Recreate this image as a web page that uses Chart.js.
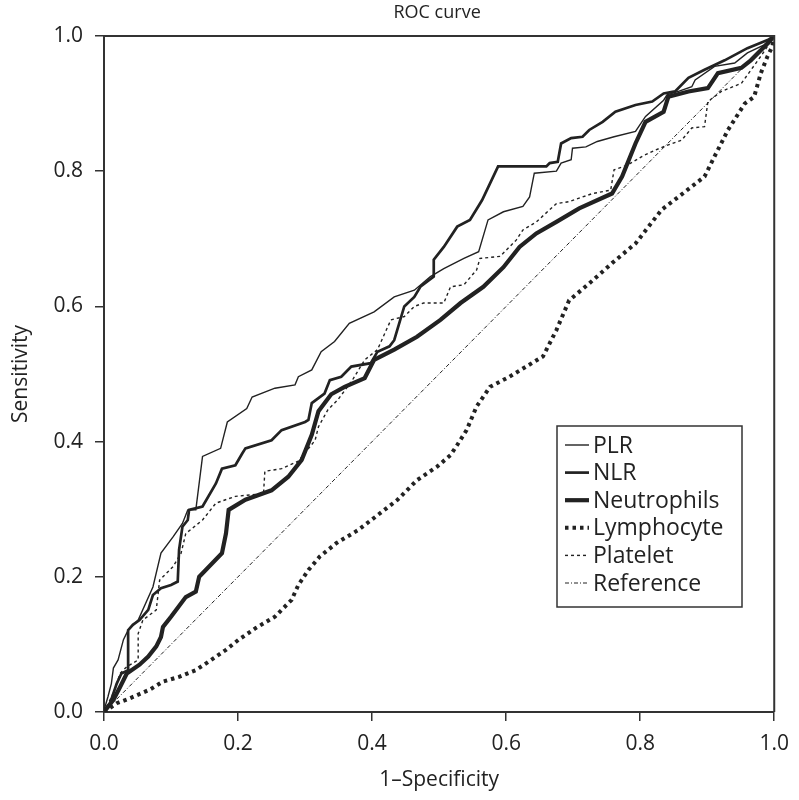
<!DOCTYPE html>
<html>
<head>
<meta charset="utf-8">
<script src="https://cdn.jsdelivr.net/npm/chart.js@4.4.1/dist/chart.umd.min.js"></script>
<style>
  body { margin: 0; background: #fff; }
  #wrap { width: 799px; height: 800px; }
</style>
</head>
<body>
<div id="wrap"><canvas id="rocChart" width="799" height="800"></canvas></div>
<script>
// ROC curve values (1-specificity, sensitivity)
var plrX = [0, 0.001, 0.006, 0.011, 0.014, 0.021, 0.029, 0.036, 0.051, 0.073, 0.085, 0.103, 0.117, 0.125, 0.137, 0.147, 0.174, 0.184, 0.213, 0.221, 0.255, 0.285, 0.290, 0.310, 0.324, 0.344, 0.366, 0.403, 0.433, 0.463, 0.487, 0.507, 0.537, 0.559, 0.573, 0.596, 0.625, 0.635, 0.642, 0.675, 0.682, 0.697, 0.699, 0.719, 0.736, 0.761, 0.793, 0.808, 0.835, 0.840, 0.857, 0.877, 0.882, 0.911, 0.941, 0.960, 0.985, 1]
var plrY = [0, 0.006, 0.023, 0.042, 0.065, 0.077, 0.107, 0.121, 0.136, 0.185, 0.235, 0.259, 0.279, 0.299, 0.299, 0.378, 0.390, 0.429, 0.449, 0.466, 0.479, 0.484, 0.496, 0.506, 0.533, 0.548, 0.575, 0.592, 0.614, 0.624, 0.644, 0.656, 0.671, 0.681, 0.728, 0.740, 0.748, 0.762, 0.797, 0.800, 0.812, 0.817, 0.834, 0.836, 0.844, 0.851, 0.859, 0.881, 0.905, 0.913, 0.918, 0.925, 0.935, 0.955, 0.960, 0.975, 0.987, 1]

var nlrX = [0, 0.009, 0.019, 0.026, 0.036, 0.036, 0.043, 0.053, 0.066, 0.073, 0.085, 0.100, 0.110, 0.112, 0.117, 0.125, 0.127, 0.147, 0.167, 0.176, 0.196, 0.206, 0.211, 0.250, 0.265, 0.300, 0.305, 0.310, 0.329, 0.337, 0.354, 0.369, 0.398, 0.408, 0.426, 0.433, 0.448, 0.463, 0.472, 0.492, 0.492, 0.507, 0.527, 0.546, 0.564, 0.576, 0.588, 0.660, 0.665, 0.677, 0.682, 0.697, 0.714, 0.724, 0.744, 0.763, 0.793, 0.818, 0.835, 0.852, 0.872, 0.896, 0.926, 0.960, 0.990, 1]
var nlrY = [0, 0.013, 0.042, 0.057, 0.062, 0.121, 0.129, 0.136, 0.151, 0.173, 0.183, 0.188, 0.193, 0.240, 0.274, 0.284, 0.299, 0.304, 0.338, 0.360, 0.365, 0.382, 0.390, 0.402, 0.417, 0.429, 0.432, 0.457, 0.471, 0.491, 0.496, 0.511, 0.516, 0.533, 0.541, 0.550, 0.600, 0.614, 0.629, 0.644, 0.669, 0.688, 0.718, 0.728, 0.757, 0.782, 0.807, 0.807, 0.812, 0.814, 0.841, 0.849, 0.851, 0.861, 0.873, 0.888, 0.898, 0.903, 0.915, 0.918, 0.938, 0.950, 0.964, 0.982, 0.994, 1]

var neuX = [0, 0.014, 0.024, 0.034, 0.053, 0.066, 0.078, 0.085, 0.088, 0.100, 0.122, 0.137, 0.142, 0.176, 0.182, 0.186, 0.211, 0.250, 0.275, 0.295, 0.310, 0.320, 0.339, 0.359, 0.389, 0.403, 0.433, 0.467, 0.502, 0.532, 0.566, 0.596, 0.620, 0.645, 0.675, 0.709, 0.758, 0.773, 0.793, 0.808, 0.835, 0.842, 0.872, 0.901, 0.916, 0.951, 0.965, 0.990, 1]
var neuY = [0, 0.018, 0.037, 0.057, 0.070, 0.082, 0.097, 0.111, 0.126, 0.141, 0.170, 0.178, 0.200, 0.235, 0.264, 0.299, 0.314, 0.328, 0.348, 0.373, 0.410, 0.445, 0.470, 0.481, 0.494, 0.521, 0.536, 0.555, 0.580, 0.605, 0.629, 0.658, 0.688, 0.708, 0.725, 0.745, 0.767, 0.792, 0.841, 0.873, 0.888, 0.910, 0.918, 0.923, 0.945, 0.953, 0.964, 0.989, 1]

var lymX = [0, 0.019, 0.038, 0.068, 0.088, 0.112, 0.137, 0.157, 0.182, 0.201, 0.226, 0.255, 0.280, 0.290, 0.305, 0.322, 0.347, 0.379, 0.408, 0.438, 0.467, 0.497, 0.517, 0.527, 0.541, 0.556, 0.576, 0.605, 0.655, 0.675, 0.694, 0.724, 0.758, 0.793, 0.832, 0.857, 0.896, 0.911, 0.931, 0.956, 0.970, 0.980, 0.990, 0.997, 1]
var lymY = [0, 0.013, 0.020, 0.033, 0.045, 0.052, 0.062, 0.075, 0.092, 0.107, 0.124, 0.141, 0.166, 0.188, 0.210, 0.230, 0.250, 0.269, 0.291, 0.314, 0.343, 0.363, 0.380, 0.395, 0.417, 0.452, 0.481, 0.496, 0.526, 0.565, 0.609, 0.634, 0.664, 0.693, 0.743, 0.762, 0.792, 0.822, 0.861, 0.900, 0.910, 0.945, 0.970, 0.984, 1]

var pltX = [0, 0.014, 0.024, 0.034, 0.051, 0.051, 0.058, 0.078, 0.083, 0.103, 0.115, 0.122, 0.147, 0.167, 0.196, 0.238, 0.240, 0.265, 0.290, 0.315, 0.320, 0.334, 0.349, 0.370, 0.389, 0.408, 0.428, 0.448, 0.463, 0.477, 0.507, 0.517, 0.537, 0.556, 0.561, 0.591, 0.615, 0.625, 0.645, 0.675, 0.694, 0.729, 0.756, 0.761, 0.781, 0.803, 0.822, 0.842, 0.862, 0.877, 0.896, 0.901, 0.921, 0.951, 0.980, 1]
var pltY = [0, 0.028, 0.057, 0.067, 0.077, 0.116, 0.136, 0.151, 0.195, 0.215, 0.235, 0.264, 0.284, 0.309, 0.319, 0.323, 0.356, 0.360, 0.371, 0.402, 0.422, 0.447, 0.462, 0.490, 0.521, 0.536, 0.580, 0.585, 0.600, 0.605, 0.605, 0.629, 0.632, 0.654, 0.671, 0.674, 0.698, 0.713, 0.725, 0.752, 0.755, 0.767, 0.772, 0.802, 0.809, 0.822, 0.831, 0.839, 0.846, 0.864, 0.866, 0.903, 0.918, 0.930, 0.970, 1]

var refX = [0, 1]
var refY = [0, 1]

var seriesNames = ['PLR', 'NLR', 'Neutrophils', 'Lymphocyte', 'Platelet', 'Reference']
var tickLabels = ['0.0', '0.2', '0.4', '0.6', '0.8', '1.0']

function pts(xs, ys) {
    return xs.map(function(x, i) { return { x: x, y: ys[i] } })
}

var ink = '#222'
var FONT = "'Open Sans', 'Noto Sans', sans-serif"

var datasets = [
    { label: seriesNames[0], data: pts(plrX, plrY), borderWidth: 1.4, borderDash: [] },
    { label: seriesNames[1], data: pts(nlrX, nlrY), borderWidth: 2.7, borderDash: [] },
    { label: seriesNames[2], data: pts(neuX, neuY), borderWidth: 4.2, borderDash: [] },
    { label: seriesNames[3], data: pts(lymX, lymY), borderWidth: 4, borderDash: [3.5, 4] },
    { label: seriesNames[4], data: pts(pltX, pltY), borderWidth: 1.4, borderDash: [3, 3] },
    { label: seriesNames[5], data: pts(refX, refY), borderWidth: 1, borderDash: [4, 2, 1, 2] }
].map(function(d) {
    d.borderColor = ink
    d.showLine = true
    d.pointRadius = 0
    d.fill = false
    d.tension = 0
    return d
})

// title, frame on top/right and the boxed legend inside the plot
var framePlugin = {
    id: 'frame',
    afterDraw: function(chart) {
        var ctx = chart.ctx, a = chart.chartArea
        ctx.save()
        ctx.fillStyle = ink
        ctx.font = '18px ' + FONT
        ctx.textAlign = 'center'
        ctx.textBaseline = 'middle'
        ctx.fillText('ROC curve', (a.left + a.right) / 2 - 2, 13)

        ctx.strokeStyle = '#333'
        ctx.lineWidth = 2
        ctx.beginPath()
        ctx.moveTo(a.left, a.top)
        ctx.lineTo(a.right, a.top)
        ctx.lineTo(a.right, a.bottom)
        ctx.stroke()

        // legend box
        var bx = 557, by = 426, bw = 185, bh = 181
        ctx.fillStyle = '#fff'
        ctx.fillRect(bx, by, bw, bh)
        ctx.lineWidth = 1.5
        ctx.strokeStyle = '#333'
        ctx.strokeRect(bx, by, bw, bh)
        ctx.font = '23px ' + FONT
        ctx.textBaseline = 'middle'
        ctx.textAlign = 'left'
        chart.data.datasets.forEach(function(d, i) {
            var yy = 445 + i * 27.6
            ctx.beginPath()
            ctx.setLineDash(d.borderDash)
            ctx.lineWidth = d.borderWidth
            ctx.strokeStyle = ink
            ctx.moveTo(565, yy)
            ctx.lineTo(589, yy)
            ctx.stroke()
            ctx.setLineDash([])
            ctx.fillStyle = ink
            ctx.fillText(d.label, 593, yy + 1)
        })
        ctx.restore()
    }
}

var axisCommon = {
    type: 'linear',
    min: 0,
    max: 1,
    grid: { drawOnChartArea: false, drawTicks: true, tickLength: 9, color: '#333', lineWidth: 1.5 },
    border: { display: true, color: '#333', width: 2 },
}

new Chart(document.getElementById('rocChart').getContext('2d'), {
    type: 'scatter',
    data: { datasets: datasets },
    options: {
        responsive: false,
        animation: false,
        layout: { autoPadding: false, padding: { left: 0, right: 19, top: 36, bottom: 0 } },
        plugins: {
            legend: { display: false },
            tooltip: { enabled: false },
            title: { display: false }
        },
        scales: {
            x: Object.assign({}, axisCommon, {
                ticks: {
                    stepSize: 0.2,
                    color: ink,
                    padding: 10,
                    maxRotation: 0,
                    font: { family: FONT, size: 21 },
                    callback: function(v) { return tickLabels[Math.round(v * 5)] }
                },
                title: { display: true, text: '1–Specificity', color: ink, font: { family: FONT, size: 21 }, padding: { top: 0, bottom: 7 } },
                afterFit: function(s) { s.height = 88 }
            }),
            y: Object.assign({}, axisCommon, {
                ticks: {
                    stepSize: 0.2,
                    color: ink,
                    padding: 12,
                    font: { family: FONT, size: 21 },
                    callback: function(v) { return tickLabels[Math.round(v * 5)] }
                },
                title: { display: true, text: 'Sensitivity', color: ink, font: { family: FONT, size: 21 }, padding: { top: 8, bottom: 0 } },
                afterFit: function(s) { s.width = 104 }
            })
        }
    },
    plugins: [framePlugin]
})
</script>
</body>
</html>
